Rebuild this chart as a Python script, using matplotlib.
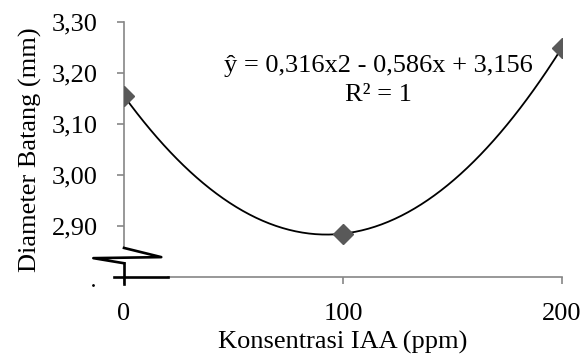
import numpy as np
import matplotlib
matplotlib.use("Agg")
import matplotlib.pyplot as plt

konsentrasi = [0, 100, 200]
diameter = [3.155, 2.885, 3.25]
y_ticks = [2.90, 3.00, 3.10, 3.20, 3.30]
equation = "ŷ = 0,316x2 - 0,586x + 3,156\nR² = 1"

plt.rcParams["font.family"] = ["Liberation Serif", "DejaVu Serif"]
grey = "#868686"
fs = 19

fig = plt.figure(figsize=(5.83, 3.56), dpi=100)
ax = fig.add_axes([0.2127, 0.2219, 0.7513, 0.7161])

# excel-style poly trendline on category index 0,1,2
idx = np.arange(len(konsentrasi))
coef = np.polyfit(idx, diameter, 2)
t = np.linspace(0, 2, 200)
ax.plot(t * 100, np.polyval(coef, t), color="black", lw=1.3, zorder=2)
ax.plot(konsentrasi, diameter, "D", color="#595959", markersize=10.5, zorder=3)

ax.set_xlim(0, 200)
ax.set_ylim(2.80, 3.30)
ax.set_yticks(y_ticks)
ax.set_yticklabels([f"{v:.2f}".replace(".", ",") for v in y_ticks])
ax.set_xticks(konsentrasi)
ax.set_xticklabels([str(v) for v in konsentrasi])
ax.tick_params(axis="both", labelsize=fs, color=grey, length=5, width=1.2)
ax.tick_params(axis="x", pad=14)
ax.tick_params(axis="y", pad=14)

for side in ["top", "right"]:
    ax.spines[side].set_visible(False)
ax.spines["left"].set_color(grey)
ax.spines["left"].set_linewidth(1.2)
ax.spines["left"].set_bounds(2.858, 3.30)
ax.spines["bottom"].set_color(grey)
ax.spines["bottom"].set_linewidth(1.2)
ax.spines["bottom"].set_bounds(20, 200)

# axis break symbol
brk = dict(color="black", lw=1.9, clip_on=False, zorder=4)
ax.plot([0, 17, -14, 0], [2.857, 2.839, 2.837, 2.827], **brk)
ax.plot([0, 0], [2.827, 2.786], **brk)
ax.plot([-4.5, 20], [2.80, 2.80], **brk)
ax.plot([-14], [2.785], ".", color="black", markersize=2, clip_on=False)

ax.text(116, 3.185, equation, ha="center", va="center", fontsize=fs,
        linespacing=1.4)

ax.set_xlabel("Konsentrasi IAA (ppm)", fontsize=fs, labelpad=4)
ax.set_ylabel("Diameter Batang (mm)", fontsize=fs, labelpad=7)

fig.savefig("out.png", dpi=100)
